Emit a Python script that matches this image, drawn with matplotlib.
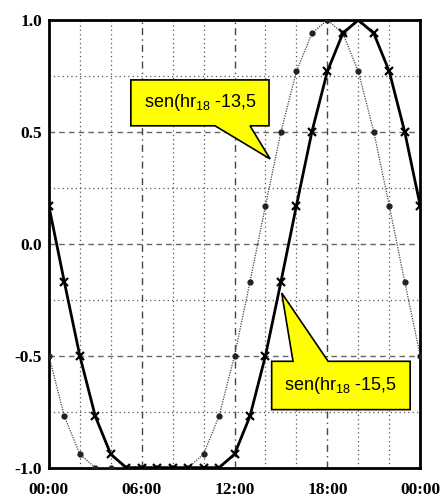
import numpy as np
import matplotlib.pyplot as plt
from matplotlib.patches import Polygon

plt.rcParams['mathtext.fontset'] = 'custom'
plt.rcParams['mathtext.rm'] = 'Liberation Sans'
plt.rcParams['mathtext.it'] = 'Liberation Sans:italic'

hours = list(range(25))
# sen(hr18 - 13,5)
sen_135 = [-0.50, -0.77, -0.94, -1.00, -1.00, -1.00, -1.00, -1.00, -1.00, -1.00,
           -0.94, -0.77, -0.50, -0.17, 0.17, 0.50, 0.77, 0.94, 1.00, 0.94,
           0.77, 0.50, 0.17, -0.17, -0.50]
# sen(hr18 - 15,5)
sen_155 = [0.17, -0.17, -0.50, -0.77, -0.94, -1.00, -1.00, -1.00, -1.00, -1.00,
           -1.00, -1.00, -0.94, -0.77, -0.50, -0.17, 0.17, 0.50, 0.77, 0.94,
           1.00, 0.94, 0.77, 0.50, 0.17]
xtick_pos = [0, 6, 12, 18, 24]
xtick_labels = ['00:00', '06:00', '12:00', '18:00', '00:00']
ytick_pos = [-1.0, -0.5, 0.0, 0.5, 1.0]
ytick_labels = ['-1.0', '-0.5', '0.0', '0.5', '1.0']

fig = plt.figure(figsize=(4.4, 4.98), dpi=100)
ax = fig.add_axes([0.111, 0.061, 0.844, 0.899])

# grid
for y in [-0.75, -0.25, 0.25, 0.75]:
    ax.axhline(y, color='#555555', lw=0.9, ls=(0, (1, 2.5)), zorder=1)
for x in [2, 4, 8, 10, 14, 16, 20, 22]:
    ax.axvline(x, color='#555555', lw=0.9, ls=(0, (1, 2.5)), zorder=1)
for y in [-0.5, 0.0, 0.5]:
    ax.axhline(y, color='#666666', lw=1.0, ls=(0, (4, 3)), zorder=1)
for x in [6, 12, 18]:
    ax.axvline(x, color='#444444', lw=1.0, ls=(0, (5, 3, 1, 3)), zorder=1)

ax.plot(hours, sen_135, color='#444444', lw=0.9, ls=(0, (1, 1)),
        marker='o', ms=3.5, mfc='#222222', mec='#222222', zorder=3)
ax.plot(hours, sen_155, color='black', lw=2.0, ls='-',
        marker='x', ms=6, mew=1.6, zorder=4)

ax.set_xlim(0, 24)
ax.set_ylim(-1.0, 1.0)
ax.set_xticks(xtick_pos)
ax.set_xticklabels(xtick_labels)
ax.set_yticks(ytick_pos)
ax.set_yticklabels(ytick_labels)
ax.tick_params(axis='x', length=0, pad=10)
ax.tick_params(axis='y', length=0, pad=5)
for lab in ax.get_xticklabels() + ax.get_yticklabels():
    lab.set_fontfamily('Liberation Serif')
    lab.set_fontweight('bold')
    lab.set_fontsize(12.5)
for sp in ax.spines.values():
    sp.set_linewidth(2.0)

# callouts
call1 = [(5.30, 0.527), (5.30, 0.732), (14.23, 0.732), (14.23, 0.527),
         (13.0, 0.527), (14.3, 0.379), (10.74, 0.527)]
call2 = [(14.4, -0.525), (15.78, -0.525), (15.05, -0.22), (18.05, -0.525),
         (23.35, -0.525), (23.35, -0.741), (14.4, -0.741)]
for pts in (call1, call2):
    ax.add_patch(Polygon(pts, closed=True, facecolor='#ffff00',
                         edgecolor='black', lw=1.2, zorder=6, clip_on=False))

ax.text(9.77, 0.63, 'sen(hr$_{18}$ -13,5', ha='center', va='center',
        fontsize=13, family='Liberation Sans', zorder=7)
ax.text(18.87, -0.633, 'sen(hr$_{18}$ -15,5', ha='center', va='center',
        fontsize=13, family='Liberation Sans', zorder=7)

fig.savefig('out.png', dpi=100)
